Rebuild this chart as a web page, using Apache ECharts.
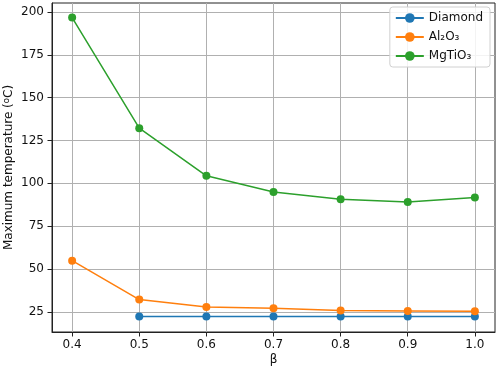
<!DOCTYPE html>
<html style="height: 100%">
<head>
	<meta charset="utf-8">
</head>
<body style="height: 100%; margin: 0; background: #fff">
<div id="container" style="width: 498px; height: 372px"></div>
<script type="text/javascript" src="https://cdn.jsdelivr.net/npm/echarts@6/dist/echarts.min.js"></script>
<script type="text/javascript">
    var dom = document.getElementById("container");
    var myChart = echarts.init(dom);

    // beta values
    var beta = [0.4, 0.5, 0.6, 0.7, 0.8, 0.9, 1.0];
    // max temperature, degC (no diamond point at 0.4)
    var diamond = [null, 22.4, 22.4, 22.3, 22.3, 22.3, 22.3];
    var al2o3 = [54.9, 32.2, 27.9, 27.1, 25.9, 25.6, 25.4];
    var mgtio3 = [196.7, 132.2, 104.4, 94.9, 90.7, 89.1, 91.8];
    var xTicks = [0.4, 0.5, 0.6, 0.7, 0.8, 0.9, 1.0];
    var yTicks = [25, 50, 75, 100, 125, 150, 175, 200];

    var font = 'DejaVu Sans';
    var color = ['#1f77b4', '#ff7f0e', '#2ca02c'];

    function pairs(ys) {
        var out = [];
        for (var i = 0; i < beta.length; i++) {
            if (ys[i] != null) out.push([beta[i], ys[i]]);
        }
        return out;
    }

    function line(name, ys, c) {
        return {
            name: name,
            type: 'line',
            data: pairs(ys),
            symbol: 'circle',
            symbolSize: 8,
            lineStyle: { color: c, width: 1.5 },
            itemStyle: { color: c },
            animation: false
        };
    }

    var option = {
        backgroundColor: '#fff',
        color: color,
        textStyle: { fontFamily: font },
        grid: {
            left: 52, right: 3, top: 3, bottom: 40,
            outerBoundsMode: 'none', containLabel: false,
            show: true, borderColor: '#222', borderWidth: 1
        },
        legend: {
            right: 8, top: 7,
            orient: 'vertical',
            backgroundColor: 'rgba(255,255,255,0.85)',
            borderColor: '#d0d0d0', borderWidth: 1, borderRadius: 3,
            padding: [5, 7, 5, 5],
            itemWidth: 28, itemHeight: 12, itemGap: 7,
            textStyle: { fontFamily: font, fontSize: 12, color: '#111' },
            data: ['Diamond', 'Al₂O₃', 'MgTiO₃']
        },
        xAxis: {
            type: 'value',
            min: 0.37, max: 1.03,
            name: 'β', nameLocation: 'middle', nameGap: 22, nameMoveOverlap: false,
            nameTextStyle: { fontFamily: font, fontSize: 12, color: '#111' },
            axisLine: { show: true, onZero: false, lineStyle: { color: '#222' } },
            axisTick: { show: true, length: 4.5, customValues: xTicks, lineStyle: { color: '#222' } },
            axisLabel: {
                customValues: xTicks, fontFamily: font, fontSize: 12, color: '#111', margin: 7,
                formatter: function (v) { return v.toFixed(1); }
            },
            splitLine: { show: true, lineStyle: { color: '#b0b0b0', width: 1 } }
        },
        yAxis: {
            type: 'value',
            min: 13.3, max: 205.2,
            name: '{a|Maximum temperature (}{s|o}{a|C)}', nameLocation: 'middle', nameGap: 36,
            nameMoveOverlap: false,
            nameTextStyle: {
                fontFamily: font, fontSize: 12, color: '#111',
                rich: {
                    a: { fontFamily: font, fontSize: 12, color: '#111', lineHeight: 14 },
                    s: { fontFamily: font, fontSize: 8.5, color: '#111', verticalAlign: 'top', lineHeight: 14 }
                }
            },
            axisLine: { show: true, onZero: false, lineStyle: { color: '#222' } },
            axisTick: { show: true, length: 4.5, customValues: yTicks, lineStyle: { color: '#222' } },
            axisLabel: { customValues: yTicks, fontFamily: font, fontSize: 12, color: '#111', margin: 8 },
            splitLine: { show: true, lineStyle: { color: '#b0b0b0', width: 1 } }
        },
        series: [
            line('Diamond', diamond, color[0]),
            line('Al₂O₃', al2o3, color[1]),
            line('MgTiO₃', mgtio3, color[2])
        ]
    };

    myChart.setOption(option, true);
</script>
</body>
</html>
